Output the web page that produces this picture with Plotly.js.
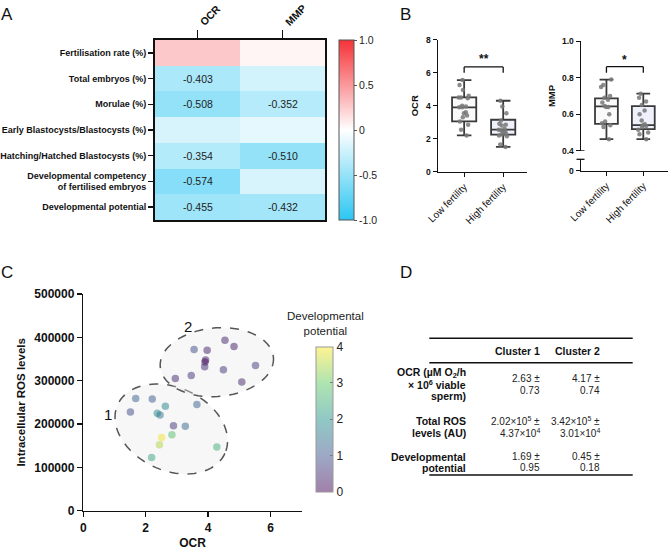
<!DOCTYPE html>
<html>
<head>
<meta charset="utf-8">
<script src="https://cdn.plot.ly/plotly-3.0.1.min.js"></script>
<style>html,body{margin:0;padding:0;background:#fff}#chart{width:669px;height:550px}</style>
</head>
<body>
<div id="chart"></div>
<script>
// ---------- Panel A data ----------
const hmRows = ['Fertilisation rate (%)','Total embryos (%)','Morulae (%)','Early Blastocysts/Blastocysts (%)','Hatching/Hatched Blastocysts (%)','Developmental competency<br>of fertilised embryos','Developmental potential'];
const hmCols = ['OCR','MMP'];
const ocrCorr = [0.27, -0.403, -0.508, -0.19, -0.354, -0.574, -0.455];
const mmpCorr = [0.05, -0.21, -0.352, -0.13, -0.510, -0.19, -0.432];
const ocrSig = [false, true, true, false, true, true, true];
const mmpSig = [false, false, true, false, true, false, true];
const cbTickVals = [-1, -0.5, 0, 0.5, 1];
const cbTickText = ['-1.0', '-0.5', '0', '0.5', '1.0'];

// ---------- Panel B data ----------
const fertCats = ['Low fertility', 'High fertility'];
// [lower whisker, q1, median, q3, upper whisker]
const ocrLowBox = [2.2, 3.05, 3.9, 4.5, 5.55];
const ocrHighBox = [1.5, 2.25, 2.55, 3.15, 4.3];
const ocrLowPts = [5.55, 5.25, 4.95, 4.6, 4.5, 4.5, 4.45, 4.0, 3.95, 3.9, 3.9, 3.6, 3.55, 3.3, 3.4, 3.05, 2.85, 2.55, 2.2];
const ocrHighPts = [4.3, 3.95, 3.55, 3.1, 2.9, 2.85, 2.8, 2.6, 2.55, 2.5, 2.45, 2.4, 2.3, 2.25, 2.2, 2.15, 1.65, 1.5];
const mmpLowBox = [0.463, 0.547, 0.643, 0.687, 0.79];
const mmpHighBox = [0.463, 0.518, 0.54, 0.644, 0.713];
const mmpLowPts = [0.79, 0.76, 0.75, 0.70, 0.69, 0.68, 0.665, 0.645, 0.64, 0.64, 0.60, 0.56, 0.55, 0.54, 0.53, 0.463];
const mmpHighPts = [0.713, 0.69, 0.67, 0.65, 0.62, 0.60, 0.565, 0.545, 0.54, 0.535, 0.53, 0.515, 0.50, 0.49, 0.463];
const ocrSigText = '**';
const mmpSigText = '*';

// ---------- Panel C data ----------
const ocrC = [4.54, 4.83, 3.55, 3.97, 3.92, 3.90, 3.89, 4.49, 5.52, 2.95, 3.46, 5.08,
              1.68, 2.21, 1.51, 2.63, 3.64, 2.37, 2.46, 2.89, 3.27, 2.51, 2.84, 2.44, 4.28, 2.19];
const rosC = [393000, 379000, 372000, 370000, 348000, 343000, 332000, 325000, 335000, 305000, 312000, 297000,
              259000, 258000, 228000, 241000, 245000, 225000, 221000, 196000, 195000, 169000, 175000, 152000, 147000, 123000];
const devPot = [0.35, 0.3, 0.9, 0.35, 0.3, 0.1, 0.5, 0.6, 0.7, 0.45, 0.6, 0.4,
                1.2, 1.1, 0.9, 1.8, 1.2, 1.9, 1.5, 0.6, 1.3, 3.9, 2.8, 3.5, 2.5, 2.3];
const clusterNames = ['1', '2'];

// ---------- Panel D data ----------
const tableHeader = ['Cluster 1', 'Cluster 2'];
const tableRowLabels = [['OCR (µM O<sub>2</sub>/h', '× 10<sup>6</sup> viable', 'sperm)'], ['Total ROS', 'levels (AU)'], ['Developmental', 'potential']];
const cluster1Vals = [['2.63 ±', '0.73'], ['2.02×10<sup>5</sup> ±', '4.37×10<sup>4</sup>'], ['1.69 ±', '0.95']];
const cluster2Vals = [['4.17 ±', '0.74'], ['3.42×10<sup>5</sup> ±', '3.01×10<sup>4</sup>'], ['0.45 ±', '0.18']];

// ---------- helpers ----------
const W = 669, H = 550;
const FF = 'Liberation Sans, Arial, sans-serif';
const px = v => v / W;
const py = v => 1 - v / H;

// heatmap matrix
const hmZ = hmRows.map((r, i) => [ocrCorr[i], mmpCorr[i]]);
const hmText = hmRows.map((r, i) => [ocrSig[i] ? ocrCorr[i].toFixed(3) : '', mmpSig[i] ? mmpCorr[i].toFixed(3) : '']);

const traces = [];
traces.push({
  type: 'heatmap', x: hmCols, y: hmRows, z: hmZ, zmin: -1, zmax: 1,
  colorscale: [[0, 'rgb(44,198,242)'], [0.5, 'rgb(255,255,255)'], [1, 'rgb(245,50,55)']],
  text: hmText, texttemplate: '%{text}', textfont: {size: 10.5, color: '#222', family: FF},
  hoverinfo: 'skip', xaxis: 'x', yaxis: 'y',
  colorbar: {x: px(339), xanchor: 'left', xpad: 0, ypad: 0, y: py(130), yanchor: 'middle',
    len: 180, lenmode: 'pixels', thickness: 15, outlinecolor: '#555', outlinewidth: 1,
    tickvals: cbTickVals, ticktext: cbTickText, ticks: 'outside', ticklen: 3, tickcolor: '#555',
    tickfont: {size: 10.5, color: '#222', family: FF}}
});

const boxLine = {color: '#3a3a3a', width: 1.8};
function statBox(cat, s, fill, xa, ya) {
  return {type: 'box', x: [cat], lowerfence: [s[0]], q1: [s[1]], median: [s[2]], q3: [s[3]], upperfence: [s[4]],
    fillcolor: fill, line: boxLine, width: 0.62, whiskerwidth: 0.6, boxpoints: false,
    xaxis: xa, yaxis: ya, hoverinfo: 'skip'};
}
function ptsBox(cat, pts, xa, ya) {
  return {type: 'box', x: pts.map(() => cat), y: pts, boxpoints: 'all', jitter: 0.55, pointpos: 0,
    fillcolor: 'rgba(0,0,0,0)', line: {width: 0, color: 'rgba(0,0,0,0)'}, width: 0.62,
    marker: {color: 'rgba(120,120,120,0.85)', size: 4.5}, xaxis: xa, yaxis: ya, hoverinfo: 'skip'};
}
traces.push(statBox(fertCats[0], ocrLowBox, '#fafafa', 'x2', 'y2'));
traces.push(statBox(fertCats[1], ocrHighBox, '#eef0fb', 'x2', 'y2'));
traces.push(ptsBox(fertCats[0], ocrLowPts, 'x2', 'y2'));
traces.push(ptsBox(fertCats[1], ocrHighPts, 'x2', 'y2'));
traces.push(statBox(fertCats[0], mmpLowBox, '#fafafa', 'x3', 'y3'));
traces.push(statBox(fertCats[1], mmpHighBox, '#eef0fb', 'x3', 'y3'));
traces.push(ptsBox(fertCats[0], mmpLowPts, 'x3', 'y3'));
traces.push(ptsBox(fertCats[1], mmpHighPts, 'x3', 'y3'));
traces.push({type: 'scatter', mode: 'markers', x: [], y: [], xaxis: 'x3', yaxis: 'y4', hoverinfo: 'skip'});

const fadedViridis = [[0, 'rgba(68,1,84,0.5)'], [0.25, 'rgba(59,82,139,0.5)'], [0.5, 'rgba(33,145,140,0.5)'], [0.75, 'rgba(94,201,98,0.5)'], [1, 'rgba(253,231,37,0.5)']];
traces.push({
  type: 'scatter', mode: 'markers', x: ocrC, y: rosC, xaxis: 'x4', yaxis: 'y5', hoverinfo: 'skip',
  marker: {size: 7.5, color: devPot, cmin: 0, cmax: 4, colorscale: fadedViridis, line: {width: 0},
    colorbar: {x: px(316), xanchor: 'left', xpad: 0, ypad: 0, y: py(419.2), yanchor: 'middle',
      len: 145, lenmode: 'pixels', thickness: 17, outlinecolor: '#999', outlinewidth: 1,
      tickvals: [0, 1, 2, 3, 4], ticks: 'inside', ticklen: 3, tickcolor: '#777',
      tickfont: {size: 12, color: '#222', family: FF}}}
});

// ---------- layout ----------
const axBase = {showgrid: false, zeroline: false, showline: true, linecolor: '#111', automargin: false, ticks: 'outside', tickcolor: '#111'};
const boldTick = s => ({size: s, color: '#111', family: FF, weight: 700});

const layout = {
  width: W, height: H, margin: {l: 0, r: 0, t: 0, b: 0},
  paper_bgcolor: '#fff', plot_bgcolor: 'rgba(0,0,0,0)', showlegend: false, boxmode: 'overlay',
  font: {family: FF, color: '#111'},
  xaxis: Object.assign({}, axBase, {domain: [px(155), px(325)], anchor: 'y', side: 'top', showticklabels: false,
    type: 'category', categoryorder: 'array', categoryarray: hmCols,
    ticklen: 8, tickwidth: 1.5, linewidth: 2, mirror: true}),
  yaxis: Object.assign({}, axBase, {domain: [py(220), py(40)], anchor: 'x', autorange: 'reversed',
    type: 'category', categoryorder: 'array', categoryarray: hmRows,
    ticklen: 5, tickwidth: 1.5, linewidth: 2, mirror: true, tickfont: boldTick(9)}),
  xaxis2: Object.assign({}, axBase, {domain: [px(438), px(527)], anchor: 'y2', type: 'category',
    categoryorder: 'array', categoryarray: fertCats, range: [-0.67, 1.61], tickangle: -45,
    ticklen: 4, tickwidth: 1.3, linewidth: 1.5, tickfont: {size: 10, color: '#111', family: FF}}),
  yaxis2: Object.assign({}, axBase, {domain: [py(171.7), py(39.7)], anchor: 'x2', range: [0, 8], dtick: 2,
    ticklen: 4, tickwidth: 1.3, linewidth: 1.5, tickfont: boldTick(8.5),
    title: {text: 'OCR', font: boldTick(9.5), standoff: 5}}),
  xaxis3: Object.assign({}, axBase, {domain: [px(581), px(668)], anchor: 'y4', type: 'category',
    categoryorder: 'array', categoryarray: fertCats, range: [-0.69, 1.67], tickangle: -45,
    ticklen: 4, tickwidth: 1.3, linewidth: 1.5, tickfont: {size: 10, color: '#111', family: FF}}),
  yaxis3: Object.assign({}, axBase, {domain: [py(150.7), py(41.3)], anchor: 'x3', range: [0.4, 1.0], dtick: 0.2,
    tickformat: '.1f', ticklen: 4, tickwidth: 1.3, linewidth: 1.5, tickfont: boldTick(8.5),
    title: {text: 'MMP', font: boldTick(9.5), standoff: 4}}),
  yaxis4: Object.assign({}, axBase, {domain: [py(170.7), py(159.3)], anchor: 'x3', range: [0, 0.05], tickvals: [0],
    ticklen: 4, tickwidth: 1.3, linewidth: 1.5, tickfont: boldTick(8.5)}),
  xaxis4: Object.assign({}, axBase, {domain: [px(83.3), px(301.7)], anchor: 'y5', range: [0, 7], tickvals: [0, 2, 4, 6],
    ticklen: 5, tickwidth: 1.5, linewidth: 1.5, tickfont: boldTick(12),
    title: {text: 'OCR', font: boldTick(12), standoff: 6}}),
  yaxis5: Object.assign({}, axBase, {domain: [py(510.7), py(294)], anchor: 'x4', range: [0, 500000], dtick: 100000,
    tickformat: 'd', ticklen: 5, tickwidth: 1.5, linewidth: 1.5, tickfont: boldTick(12),
    title: {text: 'Intracellular ROS levels', font: boldTick(11.5), standoff: 6}}),
  shapes: [], annotations: []
};

// heatmap column labels: rotated annotations
hmCols.forEach(c => layout.annotations.push({xref: 'x', yref: 'paper', x: c, y: py(30.5), xshift: -3,
  text: '<b>' + c + '</b>', textangle: -45, showarrow: false, xanchor: 'left', yanchor: 'bottom',
  font: {size: 10.5, color: '#111', family: FF}}));

// significance brackets
function bracket(xa, ya, y0, y1) {
  const ln = {color: '#111', width: 1.3};
  return [
    {type: 'line', xref: xa, yref: ya, x0: 0, x1: 0, y0: y0, y1: y1, line: ln},
    {type: 'line', xref: xa, yref: ya, x0: 0, x1: 1, y0: y1, y1: y1, line: ln},
    {type: 'line', xref: xa, yref: ya, x0: 1, x1: 1, y0: y1, y1: y0, line: ln}
  ];
}
layout.shapes.push(...bracket('x2', 'y2', 6.0, 6.35));
layout.shapes.push(...bracket('x3', 'y3', 0.828, 0.861));
layout.annotations.push({xref: 'x2', yref: 'y2', x: 0.5, y: 6.85, text: ocrSigText, showarrow: false, font: boldTick(12)});
layout.annotations.push({xref: 'x3', yref: 'y3', x: 0.5, y: 0.9, text: mmpSigText, showarrow: false, font: boldTick(12)});

// axis break bars
layout.shapes.push({type: 'line', xref: 'paper', yref: 'y3', x0: px(576), x1: px(584.5), y0: 0.4, y1: 0.4, line: {color: '#111', width: 1.3}});
layout.shapes.push({type: 'line', xref: 'paper', yref: 'y4 domain', x0: px(576.5), x1: px(584.5), y0: 1, y1: 1, line: {color: '#111', width: 1.3}});

// cluster ellipses (pixel radii, rotation in screen space)
const xScale = (301.7 - 83.3) / 7, yScale = (510.7 - 294) / 500000;
function ellipsePath(cx, cy, a, b, angDeg) {
  const th = angDeg * Math.PI / 180;
  let d = '';
  for (let i = 0; i <= 90; i++) {
    const t = 2 * Math.PI * i / 90;
    const dx = a * Math.cos(t) * Math.cos(th) - b * Math.sin(t) * Math.sin(th);
    const dy = a * Math.cos(t) * Math.sin(th) + b * Math.sin(t) * Math.cos(th);
    d += (i ? 'L' : 'M') + (cx + dx / xScale).toFixed(4) + ',' + (cy - dy / yScale).toFixed(0);
  }
  return d + 'Z';
}
const ellStyle = {type: 'path', xref: 'x4', yref: 'y5', layer: 'below', fillcolor: 'rgba(232,232,232,0.35)',
  line: {color: '#555', width: 1.5, dash: 'dash'}};
layout.shapes.push(Object.assign({path: ellipsePath(2.82, 188500, 58.9, 41.5, 24.5)}, ellStyle));
layout.shapes.push(Object.assign({path: ellipsePath(4.28, 342700, 56.8, 34.3, -4.8)}, ellStyle));
layout.annotations.push({xref: 'x4', yref: 'y5', x: 0.78, y: 221000, text: clusterNames[0], showarrow: false, font: {size: 15, color: '#111', family: FF}});
layout.annotations.push({xref: 'x4', yref: 'y5', x: 3.37, y: 426000, text: clusterNames[1], showarrow: false, font: {size: 15, color: '#111', family: FF}});
layout.annotations.push({xref: 'paper', yref: 'paper', x: px(325), y: py(323.5), text: 'Developmental<br>potential', showarrow: false, font: {size: 11.5, color: '#222', family: FF}});

// panel letters
[['A', 7, 15], ['B', 405, 15], ['C', 7, 272], ['D', 406, 272]].forEach(l => {
  layout.annotations.push({xref: 'paper', yref: 'paper', x: px(l[1]), y: py(l[2]), text: l[0], showarrow: false,
    xanchor: 'center', yanchor: 'middle', font: {size: 17, color: '#111', family: FF}});
});

// ---------- Panel D table ----------
const tX = [468.3, 541.7, 602.3];
const rowCenters = [384.5, 426.9, 462.2];
const lineGap = 11.3;
const tl = {color: '#111', width: 1.5};
[338.3, 362.7, 475].forEach(y => layout.shapes.push({type: 'line', xref: 'paper', yref: 'paper', x0: px(429.3), x1: px(632.7), y0: py(y), y1: py(y), line: tl}));
tableHeader.forEach((h, j) => layout.annotations.push({xref: 'paper', yref: 'paper', x: px(tX[j + 1]), y: py(351), text: h, showarrow: false, font: boldTick(10.5)}));
function addLines(lines, xpx, yc, font) {
  const n = lines.length;
  lines.forEach((t, k) => {
    const yy = yc + (k - (n - 1) / 2) * lineGap;
    layout.annotations.push({xref: 'paper', yref: 'paper', x: px(xpx), y: py(yy), text: t, showarrow: false, yanchor: 'middle', font: font});
  });
}
const valFont = {size: 10, color: '#222', family: FF};
tableRowLabels.forEach((lines, i) => {
  addLines(lines, tX[0], rowCenters[i], boldTick(10.5));
  addLines(cluster1Vals[i], tX[1], rowCenters[i], valFont);
  addLines(cluster2Vals[i], tX[2], rowCenters[i], valFont);
});

Plotly.newPlot('chart', traces, layout, {staticPlot: true});
</script>
</body>
</html>
